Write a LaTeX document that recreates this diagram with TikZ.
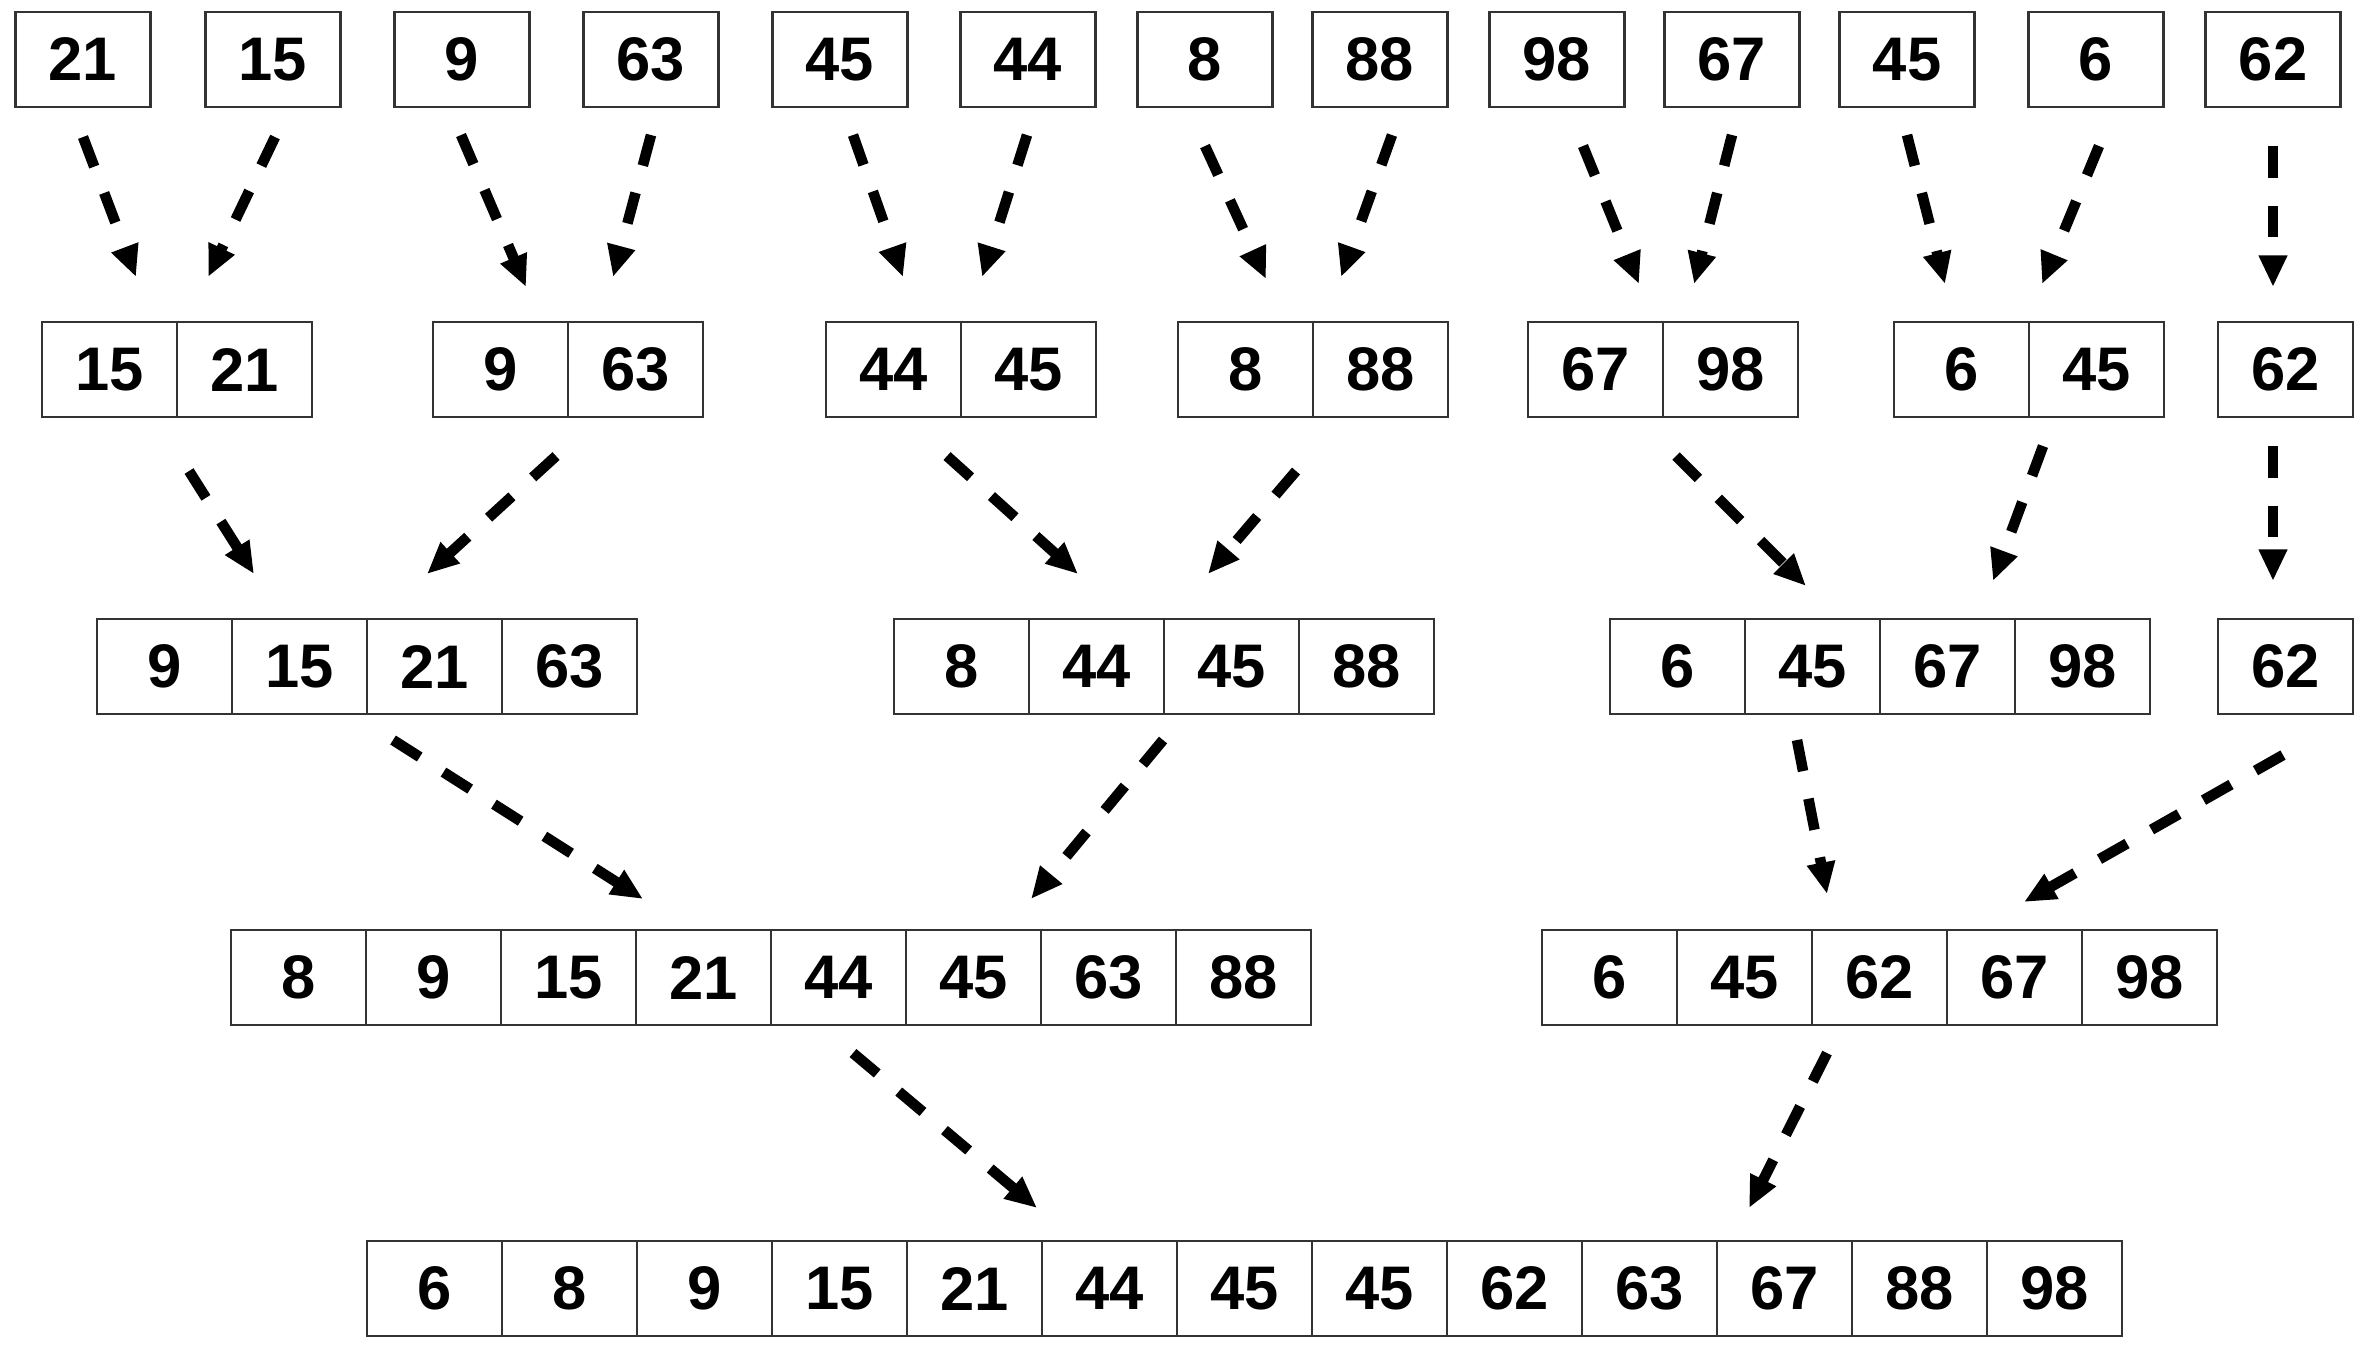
\documentclass[tikz,border=0pt]{standalone}
\usepackage{fontspec}
\setmainfont{Liberation Sans}
\usetikzlibrary{arrows.meta, positioning, calc}

\begin{document}
\begin{tikzpicture}[
    x=0.01cm, y=-0.01cm,
    cell/.style={rectangle, draw=black!80, line width=0.7pt, minimum width=1.35cm, minimum height=0.95cm, inner sep=0pt, outer sep=0pt, font=\fontsize{17.5}{20}\selectfont\bfseries},
    merge/.style={-{Triangle[length=9pt, width=7.6pt]}, line width=3pt, dash pattern=on 9pt off 8pt}
]
\useasboundingbox (0,0) rectangle (2368,1350);

% single values
\foreach \v/\x [count=\i] in {21/83, 15/273, 9/462, 63/651, 45/840, 44/1028, 8/1205, 88/1380, 98/1557, 67/1732, 45/1907, 6/2096, 62/2273}
    \node[cell] (l\i) at (\x,59.5) {\v};

% pairs
\foreach \g/\x/\u/\w in {1/42/15/21, 2/433/9/63, 3/826/44/45, 4/1178/8/88, 5/1528/67/98, 6/1894/6/45} {
    \node[cell] (p\g-1) at (\x+67.5,369.5) {\u};
    \node[cell, right=0pt of p\g-1] (p\g-2) {\w};
}
\node[cell] (p7-1) at (2285.5,369.5) {62};

% groups of four
\foreach \v [count=\i] in {9,15,21,63}
    \node[cell] (q1-\i) at ({164.5+135*(\i-1)},666.5) {\v};
\foreach \v [count=\i] in {8,44,45,88}
    \node[cell] (q2-\i) at ({961.5+135*(\i-1)},666.5) {\v};
\foreach \v [count=\i] in {6,45,67,98}
    \node[cell] (q3-\i) at ({1677.5+135*(\i-1)},666.5) {\v};
\node[cell] (q4-1) at (2285.5,666.5) {62};

% two halves
\foreach \v [count=\i] in {8,9,15,21,44,45,63,88}
    \node[cell] (h1-\i) at ({298.5+135*(\i-1)},977.5) {\v};
\foreach \v [count=\i] in {6,45,62,67,98}
    \node[cell] (h2-\i) at ({1609.5+135*(\i-1)},977.5) {\v};

% sorted result
\foreach \v [count=\i] in {6,8,9,15,21,44,45,45,62,63,67,88,98}
    \node[cell] (s-\i) at ({434.5+135*(\i-1)},1288.5) {\v};

% level 1 -> 2
\draw[merge] ($(l1.south)+(0,30)$) -- ($(p1-1.north)+(26.5,-45)$);
\draw[merge] ($(l2.south)+(2,30)$) -- ($(p1-2.north)+(-36.5,-45)$);
\draw[merge] ($(l3.south)+(-1,28)$) -- ($(p2-1.north)+(25.5,-35)$);
\draw[merge] ($(l4.south)+(0,28)$) -- ($(p2-2.north)+(-22.5,-45)$);
\draw[merge] ($(l5.south)+(13,28)$) -- ($(p3-1.north)+(9.5,-45)$);
\draw[merge] ($(l6.south)+(-1,28)$) -- ($(p3-2.north)+(-46.5,-45)$);
\draw[merge] ($(l7.south)+(0,39)$) -- ($(p4-1.north)+(20.5,-43)$);
\draw[merge] ($(l8.south)+(12,28)$) -- ($(p4-2.north)+(-39.5,-45)$);
\draw[merge] ($(l9.south)+(26,39)$) -- ($(p5-1.north)+(43.5,-38)$);
\draw[merge] ($(l10.south)+(0,28)$) -- ($(p5-2.north)+(-36.5,-38)$);
\draw[merge] ($(l11.south)+(0,28)$) -- ($(p6-1.north)+(-16.5,-38)$);
\draw[merge] ($(l12.south)+(3,39)$) -- ($(p6-2.north)+(-54.5,-38)$);
\draw[merge] ($(l13.south)+(0,39)$) -- ($(p7-1.north)+(-12.5,-35)$);

% level 2 -> 3
\draw[merge] ($(p1-1.south east)+(12,54)$) -- ($(q1-2.north)+(-45.5,-45)$);
\draw[merge] ($(p2-1.south east)+(-12,39)$) -- ($(q1-3.north)+(-7.5,-45)$);
\draw[merge] ($(p3-1.south east)+(-14,39)$) -- ($(q2-2.north)+(-18.5,-45)$);
\draw[merge] ($(p4-1.south east)+(-17,54)$) -- ($(q2-3.north)+(-23.5,-45)$);
\draw[merge] ($(p5-1.south east)+(13,39)$) -- ($(q3-2.north)+(-6.5,-33)$);
\draw[merge] ($(p6-1.south east)+(14,29)$) -- ($(q3-3.north)+(45.5,-38)$);
\draw[merge] ($(p7-1.south)+(-12.5,29)$) -- ($(q4-1.north)+(-12.5,-38)$);

% level 3 -> 4
\draw[merge] ($(q1-2.south east)+(26,26)$) -- ($(h1-3.north east)+(7,-31)$);
\draw[merge] ($(q2-2.south east)+(-1,26)$) -- ($(h1-6.north east)+(-10,-31)$);
\draw[merge] ($(q3-2.south)+(-15.5,26)$) -- ($(h2-2.north east)+(15,-36)$);
\draw[merge] ($(q4-1.south)+(-2.5,41)$) -- ($(h2-4.north)+(9.5,-28)$);

% level 4 -> 5
\draw[merge] ($(h1-5.south)+(14.5,28)$) -- ($(s-5.north east)+(-5,-33)$);
\draw[merge] ($(h2-2.south east)+(15,28)$) -- ($(s-10.north east)+(32,-33)$);

\end{tikzpicture}
\end{document}
